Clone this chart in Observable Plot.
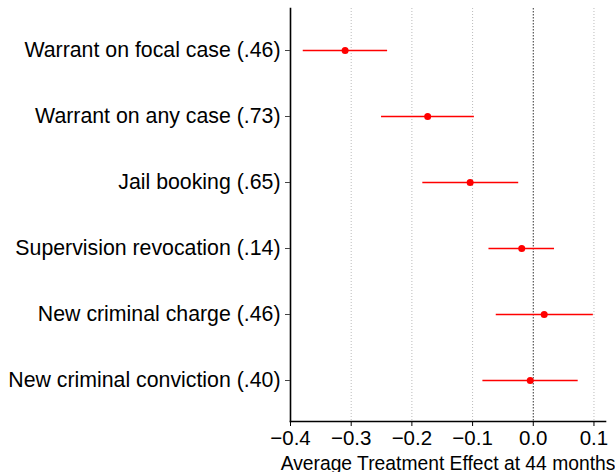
<!DOCTYPE html>
<html>
<head>
<meta charset="utf-8">
<script src="https://cdn.jsdelivr.net/npm/d3@7"></script>
<script src="https://cdn.jsdelivr.net/npm/@observablehq/plot@0.6"></script>
<style>
  html, body { margin: 0; padding: 0; background: #fff; }
  #chart svg { display: block; }
</style>
</head>
<body>
<div id="chart"></div>
<script>
const outcomes = [
  "Warrant on focal case (.46)",
  "Warrant on any case (.73)",
  "Jail booking (.65)",
  "Supervision revocation (.14)",
  "New criminal charge (.46)",
  "New criminal conviction (.40)"
];
const estimates = [-0.310, -0.174, -0.104, -0.019, 0.018, -0.005];
const lower = [-0.379, -0.250, -0.182, -0.073, -0.061, -0.083];
const upper = [-0.240, -0.097, -0.024, 0.035, 0.099, 0.074];
const xTicks = [-0.4, -0.3, -0.2, -0.1, 0.0, 0.1];
const xLabel = "Average Treatment Effect at 44 months";

const rows = outcomes.map((o, i) => ({outcome: o, est: estimates[i], lo: lower[i], hi: upper[i]}));

const chart = Plot.plot({
  width: 615,
  height: 472,
  marginLeft: 290,
  marginRight: 10,
  marginTop: 8,
  marginBottom: 51,
  style: {fontFamily: "'Liberation Sans', Helvetica, Arial, sans-serif", color: "#000", background: "#fff"},
  x: {domain: [-0.4, 0.119]},
  y: {type: "point", domain: outcomes, padding: 0.6},
  marks: [
    Plot.ruleX(xTicks.filter(t => t !== 0), {stroke: "#bbb", strokeWidth: 1, strokeDasharray: "1,2"}),
    Plot.ruleX([0], {stroke: "#333", strokeWidth: 1, strokeDasharray: "1.5,1.5"}),
    Plot.ruleY(rows, {y: "outcome", x1: "lo", x2: "hi", stroke: "#ff0000", strokeWidth: 1.3}),
    Plot.dot(rows, {y: "outcome", x: "est", fill: "#ff0000", r: 3.5, stroke: null}),
    Plot.frame({anchor: "left", stroke: "#000", strokeWidth: 1.6}),
    Plot.frame({anchor: "bottom", stroke: "#000", strokeWidth: 1.6}),
    Plot.axisY({tickSize: 5, tickPadding: 5, fontSize: 21.3, label: null, stroke: "#444", fill: "#000"}),
    Plot.axisX({ticks: xTicks, tickFormat: d3.format(".1f"), tickSize: 5, tickPadding: 4, fontSize: 20.5, label: null, stroke: "#000", fill: "#000"}),
    Plot.text([xLabel], {frameAnchor: "bottom", dy: 48.5, lineAnchor: "bottom", fontSize: 19.3, fill: "#000"})
  ]
});
document.getElementById("chart").appendChild(chart);
</script>
</body>
</html>
